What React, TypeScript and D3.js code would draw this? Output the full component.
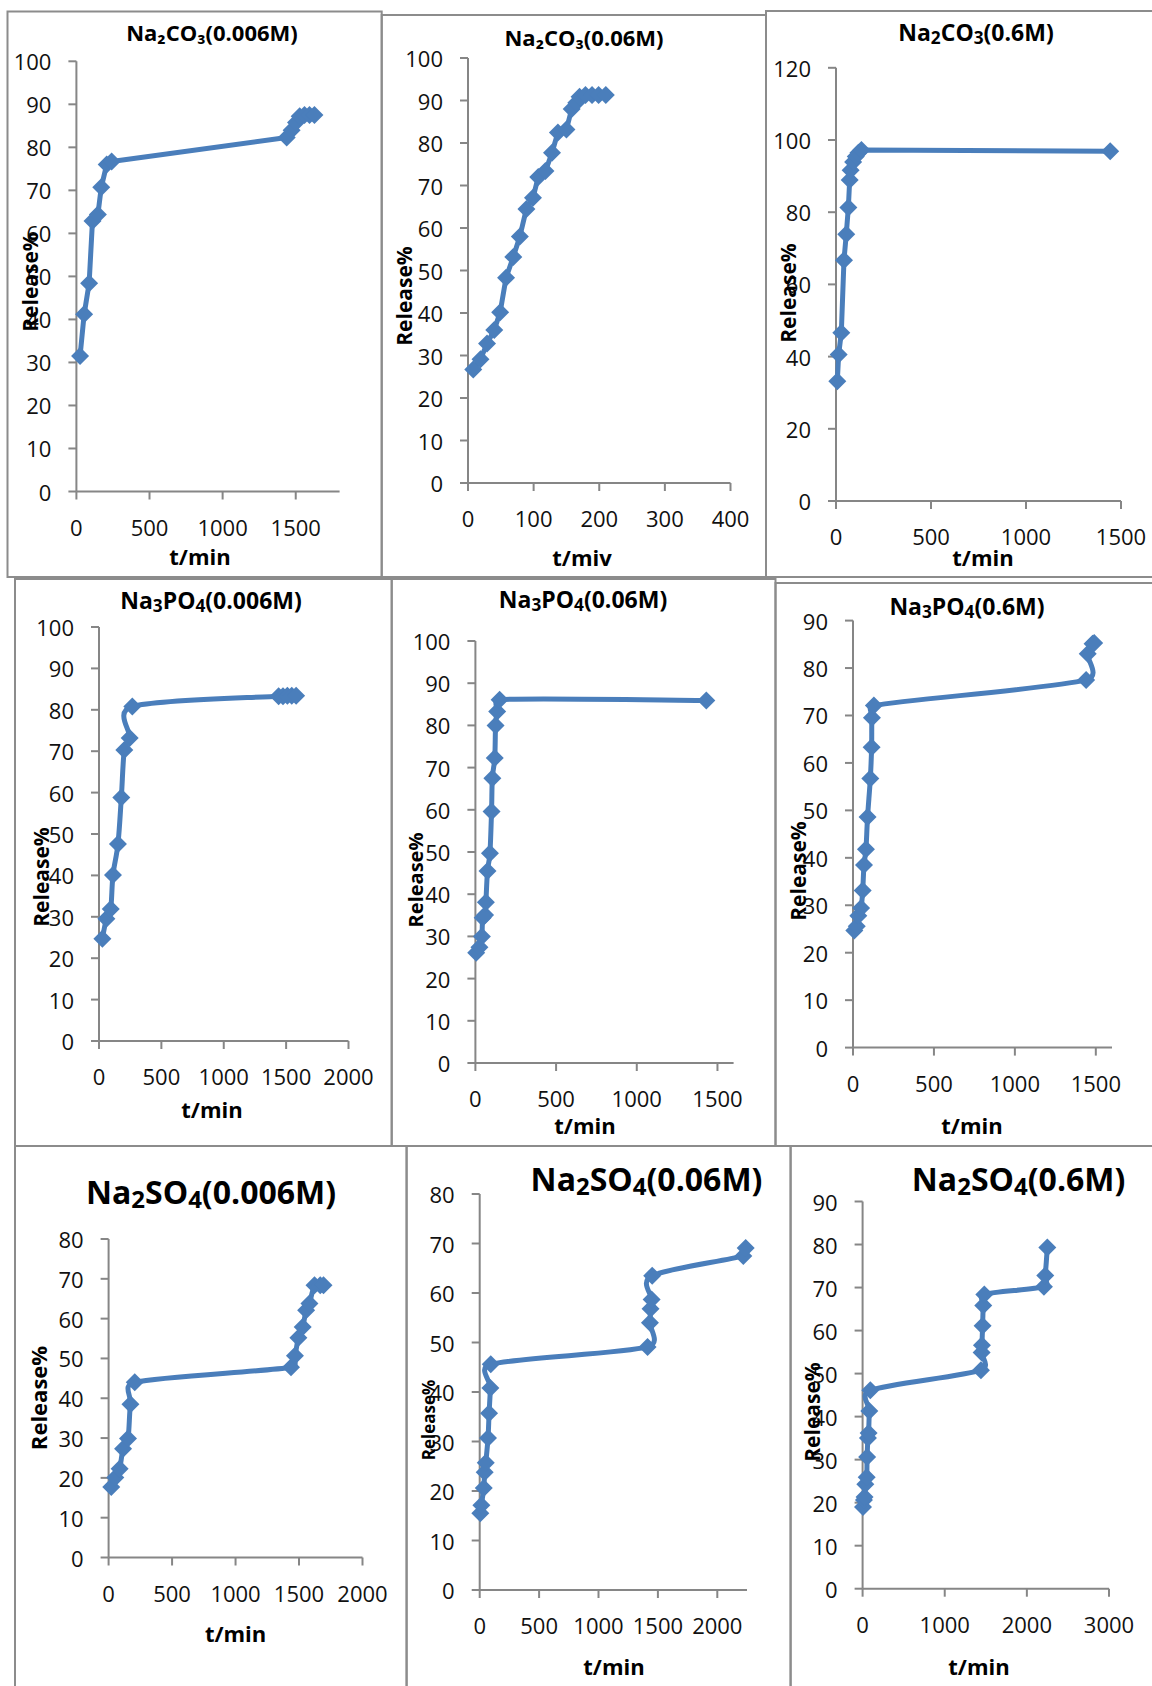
import React from "react";
import * as d3 from "d3";

// ---------- DATA ----------
// Na2CO3 0.006M
const tCo3_006 = [25, 53, 87, 110, 147, 170, 207, 241, 1438, 1472, 1502, 1527, 1560, 1594, 1628];
const rCo3_006 = [31.5, 41.2, 48.4, 62.9, 64.4, 70.7, 76.0, 76.7, 82.3, 84.0, 85.8, 87.2, 87.5, 87.5, 87.5];
// Na2CO3 0.06M
const tCo3_06 = [8, 19, 29, 40, 49, 58, 69, 79, 89, 99, 107, 118, 128, 137, 150, 158, 165, 170, 179, 189, 199, 210];
const rCo3_06 = [26.7, 29.1, 32.8, 36.0, 40.2, 48.3, 53.2, 58.0, 64.5, 67.1, 72.0, 73.4, 77.7, 82.5, 83.2, 88.0, 89.5, 90.9, 91.3, 91.3, 91.3, 91.3];
// Na2CO3 0.6M
const tCo3_6 = [7, 14, 28, 42, 54, 65, 72, 77, 90, 104, 118, 134, 1443];
const rCo3_6 = [33.2, 40.6, 46.6, 66.7, 73.9, 81.3, 88.9, 91.6, 93.9, 95.4, 96.5, 97.2, 96.9];
// Na3PO4 0.006M
const tPo4_006 = [27, 59, 94, 112, 152, 179, 203, 246, 267, 1440, 1475, 1510, 1545, 1580];
const rPo4_006 = [24.7, 29.5, 31.9, 40.1, 47.6, 58.8, 70.3, 73.2, 80.8, 83.3, 83.3, 83.4, 83.4, 83.4];
// Na3PO4 0.06M
const tPo4_06 = [5, 25, 40, 45, 60, 65, 75, 90, 100, 105, 120, 125, 135, 150, 1431];
const rPo4_06 = [26.1, 27.4, 30.0, 34.4, 35.1, 38.1, 45.5, 49.7, 59.6, 67.5, 72.3, 80.0, 83.3, 86.1, 85.9];
// Na3PO4 0.6M
const tPo4_6 = [8, 23, 33, 50, 60, 68, 80, 90, 107, 115, 117, 129, 1440, 1450, 1480, 1490];
const rPo4_6 = [24.7, 25.6, 27.8, 29.4, 33.1, 38.5, 41.8, 48.6, 56.7, 63.3, 69.5, 72.1, 77.5, 83.0, 85.1, 85.3];
// Na2SO4 0.006M
const tSo4_006 = [21, 53, 87, 114, 153, 172, 206, 1437, 1468, 1495, 1529, 1556, 1582, 1622, 1667, 1693];
const rSo4_006 = [17.7, 20.1, 22.3, 27.3, 29.9, 38.5, 44.0, 47.8, 50.7, 55.2, 57.9, 62.1, 63.8, 68.4, 68.4, 68.4];
// Na2SO4 0.06M
const tSo4_06 = [5, 14, 34, 42, 51, 70, 79, 90, 93, 1413, 1433, 1438, 1447, 1452, 2219, 2239];
const rSo4_06 = [15.5, 17.1, 20.6, 23.8, 25.7, 30.7, 35.7, 40.8, 45.6, 49.1, 54.0, 56.8, 58.7, 63.5, 67.5, 69.1];
// Na2SO4 0.6M
const tSo4_6 = [5, 16, 24, 33, 50, 55, 65, 73, 82, 94, 1441, 1449, 1453, 1461, 1469, 1482, 2208, 2224, 2249];
const rSo4_6 = [19.0, 20.6, 21.3, 24.3, 25.9, 30.6, 35.0, 36.2, 41.3, 46.1, 50.8, 54.9, 56.6, 61.1, 65.8, 68.4, 70.2, 72.8, 79.3];

// ---------- TICKS ----------
const yTicks100 = [0, 10, 20, 30, 40, 50, 60, 70, 80, 90, 100];
const yTicks120 = [0, 20, 40, 60, 80, 100, 120];
const yTicks90 = [0, 10, 20, 30, 40, 50, 60, 70, 80, 90];
const yTicks80 = [0, 10, 20, 30, 40, 50, 60, 70, 80];
const xTicks1500 = [0, 500, 1000, 1500];
const xTicks400 = [0, 100, 200, 300, 400];
const xTicks2000 = [0, 500, 1000, 1500, 2000];
const xTicks3000 = [0, 1000, 2000, 3000];

// ---------- TEXT ----------
type Seg = { s: string; sub?: boolean };
const titleCo3_006: Seg[] = [{ s: "Na₂CO₃(0.006M)" }];
const titleCo3_06: Seg[] = [{ s: "Na₂CO₃(0.06M)" }];
const titleCo3_6: Seg[] = [{ s: "Na" }, { s: "2", sub: true }, { s: "CO" }, { s: "3", sub: true }, { s: "(0.6M)" }];
const titlePo4_006: Seg[] = [{ s: "Na" }, { s: "3", sub: true }, { s: "PO" }, { s: "4", sub: true }, { s: "(0.006M)" }];
const titlePo4_06: Seg[] = [{ s: "Na" }, { s: "3", sub: true }, { s: "PO" }, { s: "4", sub: true }, { s: "(0.06M)" }];
const titlePo4_6: Seg[] = [{ s: "Na" }, { s: "3", sub: true }, { s: "PO" }, { s: "4", sub: true }, { s: "(0.6M)" }];
const titleSo4_006: Seg[] = [{ s: "Na" }, { s: "2", sub: true }, { s: "SO" }, { s: "4", sub: true }, { s: "(0.006M)" }];
const titleSo4_06: Seg[] = [{ s: "Na" }, { s: "2", sub: true }, { s: "SO" }, { s: "4", sub: true }, { s: "(0.06M)" }];
const titleSo4_6: Seg[] = [{ s: "Na" }, { s: "2", sub: true }, { s: "SO" }, { s: "4", sub: true }, { s: "(0.6M)" }];
const yLabel = "Release%";
const xLabelMin = "t/min";
const xLabelMiv = "t/miv";

// ---------- LAYOUT ----------
const BLUE = "#4a7ebb";
const AXIS = "#868686";
const FRAME = "#8c8c8c";
const FONT = "'Open Sans', 'DejaVu Sans', sans-serif";

const panels = [
  { t: tCo3_006, r: rCo3_006, title: titleCo3_006, xl: xLabelMin, smooth: false,
    frame: [7.5, 11.5, 381.7, 577], ax: [76.4, 339.6, 491.5, 61.3], xd: [0, 1800], yd: [0, 100],
    xt: xTicks1500, yt: yTicks100, tp: [212, 32], ts: 22, xlp: [200, 556], ylp: [30, 282], yls: 21 },
  { t: tCo3_06, r: rCo3_06, title: titleCo3_06, xl: xLabelMiv, smooth: false,
    frame: [381.7, 15, 766, 577], ax: [468, 730.5, 483, 58], xd: [0, 400], yd: [0, 100],
    xt: xTicks400, yt: yTicks100, tp: [584, 36.6], ts: 22, xlp: [582, 557], ylp: [404, 296], yls: 21 },
  { t: tCo3_6, r: rCo3_6, title: titleCo3_6, xl: xLabelMin, smooth: false,
    frame: [766, 11, 1160, 577], ax: [836, 1121, 501, 67.8], xd: [0, 1500], yd: [0, 120],
    xt: xTicks1500, yt: yTicks120, tp: [976, 32], ts: 23, xlp: [983, 557], ylp: [788, 293], yls: 21 },
  { t: tPo4_006, r: rPo4_006, title: titlePo4_006, xl: xLabelMin, smooth: true,
    frame: [15, 579, 391.7, 1146], ax: [99, 348.5, 1041, 627], xd: [0, 2000], yd: [0, 100],
    xt: xTicks2000, yt: yTicks100, tp: [211, 600], ts: 23, xlp: [212, 1109], ylp: [41, 877], yls: 21 },
  { t: tPo4_06, r: rPo4_06, title: titlePo4_06, xl: xLabelMin, smooth: true,
    frame: [391.7, 579, 775.5, 1146], ax: [475.4, 733.6, 1063, 641], xd: [0, 1600], yd: [0, 100],
    xt: xTicks1500, yt: yTicks100, tp: [583, 599], ts: 23, xlp: [585, 1125], ylp: [415, 880], yls: 20 },
  { t: tPo4_6, r: rPo4_6, title: titlePo4_6, xl: xLabelMin, smooth: true,
    frame: [775.5, 583, 1160, 1146], ax: [853, 1112, 1047.6, 620.6], xd: [0, 1600], yd: [0, 90],
    xt: xTicks1500, yt: yTicks90, tp: [967, 605.6], ts: 23, xlp: [972, 1125], ylp: [798, 871], yls: 21 },
  { t: tSo4_006, r: rSo4_006, title: titleSo4_006, xl: xLabelMin, smooth: true,
    frame: [15, 1146, 406.6, 1700], ax: [108.6, 362.5, 1557.5, 1239], xd: [0, 2000], yd: [0, 80],
    xt: xTicks2000, yt: yTicks80, tp: [211, 1191], ts: 32, xlp: [235.6, 1633], ylp: [37.6, 1398], yls: 22 },
  { t: tSo4_06, r: rSo4_06, title: titleSo4_06, xl: xLabelMin, smooth: true,
    frame: [406.6, 1146, 790.6, 1700], ax: [479.7, 747, 1590, 1194], xd: [0, 2250], yd: [0, 80],
    xt: xTicks2000, yt: yTicks80, tp: [646.5, 1178], ts: 32, xlp: [614, 1666], ylp: [428, 1420], yls: 17 },
  { t: tSo4_6, r: rSo4_6, title: titleSo4_6, xl: xLabelMin, smooth: true,
    frame: [790.6, 1146, 1160, 1700], ax: [862.6, 1109, 1588.7, 1201.5], xd: [0, 3000], yd: [0, 90],
    xt: xTicks3000, yt: yTicks90, tp: [1018.6, 1178], ts: 32, xlp: [979, 1666], ylp: [812, 1412], yls: 21 },
];

const TICK = 8;
const TICK_FS = 22;
const MK = 9;
const CLAMP = 0.6;

// Office-style smoothed line: Catmull-Rom tangents, clamped to a fraction of each segment's length
function smoothPath(pts: [number, number][]): string {
  const n = pts.length;
  const path = d3.path();
  if (!n) return "";
  path.moveTo(pts[0][0], pts[0][1]);
  const tan = pts.map((_, i) => {
    const a = pts[Math.max(0, i - 1)];
    const b = pts[Math.min(n - 1, i + 1)];
    return [(b[0] - a[0]) / 6, (b[1] - a[1]) / 6];
  });
  const clamp = (v: number[], lim: number) => {
    const len = Math.hypot(v[0], v[1]);
    if (len <= lim || len === 0) return v;
    return [(v[0] * lim) / len, (v[1] * lim) / len];
  };
  for (let i = 0; i < n - 1; i++) {
    const p0 = pts[i];
    const p1 = pts[i + 1];
    const L = Math.hypot(p1[0] - p0[0], p1[1] - p0[1]);
    const c1 = clamp(tan[i], L * CLAMP);
    const c2 = clamp(tan[i + 1], L * CLAMP);
    path.bezierCurveTo(p0[0] + c1[0], p0[1] + c1[1], p1[0] - c2[0], p1[1] - c2[1], p1[0], p1[1]);
  }
  return path.toString();
}

function Title({ segs, x, y, size }: { segs: Seg[]; x: number; y: number; size: number }) {
  const shift = size * 0.22;
  const out: React.ReactNode[] = [];
  let prevSub = false;
  segs.forEach((g, i) => {
    let dy = 0;
    if (g.sub && !prevSub) dy = shift;
    if (!g.sub && prevSub) dy = -shift;
    out.push(
      <tspan key={i} dy={dy} fontSize={g.sub ? size * 0.75 : size}>
        {g.s}
      </tspan>
    );
    prevSub = !!g.sub;
  });
  return (
    <text x={x} y={y} textAnchor="middle" dominantBaseline="central" fontFamily={FONT} fontWeight={700} fontSize={size} fill="#000">
      {out}
    </text>
  );
}

function Panel({ p }: { p: any }) {
  const [xl, xr, yb, yt] = p.ax;
  const x = d3.scaleLinear().domain(p.xd).range([xl, xr]);
  const y = d3.scaleLinear().domain(p.yd).range([yb, yt]);
  const pts: [number, number][] = p.t.map((tv: number, i: number) => [x(tv), y(p.r[i])]);
  const d = p.smooth ? smoothPath(pts) : d3.line()(pts) || "";
  const [fx0, fy0, fx1, fy1] = p.frame;
  return (
    <g>
      <rect x={fx0} y={fy0} width={fx1 - fx0} height={fy1 - fy0} fill="none" stroke={FRAME} strokeWidth={2} />
      {/* axes */}
      <line x1={xl} x2={xl} y1={yb} y2={yt} stroke={AXIS} strokeWidth={2} />
      <line x1={xl} x2={xr} y1={yb} y2={yb} stroke={AXIS} strokeWidth={2} />
      {p.yt.map((v: number) => (
        <g key={"y" + v}>
          <line x1={xl - TICK} x2={xl} y1={y(v)} y2={y(v)} stroke={AXIS} strokeWidth={2} />
          <text x={xl - 25} y={y(v)} textAnchor="end" dominantBaseline="central" fontFamily={FONT} fontSize={TICK_FS} fill="#111">
            {v}
          </text>
        </g>
      ))}
      {p.xt.map((v: number) => (
        <g key={"x" + v}>
          <line x1={x(v)} x2={x(v)} y1={yb} y2={yb + TICK} stroke={AXIS} strokeWidth={2} />
          <text x={x(v)} y={yb + 35} textAnchor="middle" dominantBaseline="central" fontFamily={FONT} fontSize={TICK_FS} fill="#111">
            {v}
          </text>
        </g>
      ))}
      {/* series */}
      <path d={d} fill="none" stroke={BLUE} strokeWidth={5} strokeLinejoin="round" strokeLinecap="round" />
      {pts.map((q, i) => (
        <path key={i} d={`M${q[0]},${q[1] - MK}L${q[0] + MK},${q[1]}L${q[0]},${q[1] + MK}L${q[0] - MK},${q[1]}Z`} fill={BLUE} />
      ))}
      {/* labels */}
      <Title segs={p.title} x={p.tp[0]} y={p.tp[1]} size={p.ts} />
      <text x={p.xlp[0]} y={p.xlp[1]} textAnchor="middle" dominantBaseline="central" fontFamily={FONT} fontWeight={700} fontSize={22} fill="#000">
        {p.xl}
      </text>
      <text
        transform={`translate(${p.ylp[0]},${p.ylp[1]}) rotate(-90)`}
        textAnchor="middle"
        dominantBaseline="central"
        fontFamily={FONT}
        fontWeight={700}
        fontSize={p.yls}
        fill="#000"
      >
        {yLabel}
      </text>
    </g>
  );
}

export default function App() {
  return (
    <svg
      width={1152}
      height={1686}
      viewBox="0 0 1152 1686"
      style={{ position: "absolute", left: 0, top: 0, background: "#fff", display: "block" }}
    >
      <rect x={0} y={0} width={1152} height={1686} fill="#fff" />
      {panels.map((p, i) => (
        <Panel key={i} p={p} />
      ))}
    </svg>
  );
}
